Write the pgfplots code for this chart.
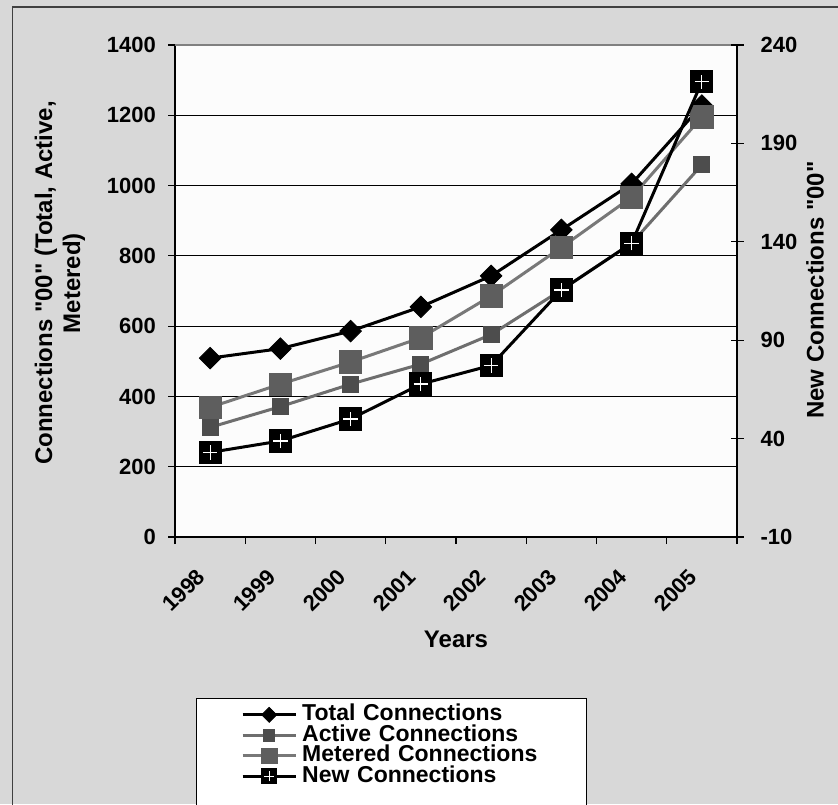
\documentclass[border=0pt]{standalone}
\usepackage{fontspec}
\setmainfont{Liberation Sans}[Ligatures=TeXOff]
\usepackage{pgfplots}
\pgfplotsset{compat=1.18}

\definecolor{bggray}{HTML}{D8D8D8}
\definecolor{plotbg}{HTML}{FCFCFC}
\definecolor{activeline}{HTML}{6E6E6E}
\definecolor{activemark}{HTML}{4D4D4D}
\definecolor{meterline}{HTML}{787878}
\definecolor{metermark}{HTML}{5E5E5E}
\definecolor{framegray}{HTML}{404040}

\newcommand\TickFont{\bfseries\fontsize{11}{13}\selectfont}

% black square with a light cross, as the New Connections marker
\pgfdeclareplotmark{sqplus}{%
  \pgfpathrectangle{\pgfqpoint{-\pgfplotmarksize}{-\pgfplotmarksize}}%
    {\pgfqpoint{2\pgfplotmarksize}{2\pgfplotmarksize}}%
  \pgfusepathqfill
  \pgfsetstrokecolor{white}%
  \pgfsetlinewidth{0.6pt}%
  \pgfpathmoveto{\pgfqpoint{-0.62\pgfplotmarksize}{0pt}}%
  \pgfpathlineto{\pgfqpoint{0.62\pgfplotmarksize}{0pt}}%
  \pgfpathmoveto{\pgfqpoint{0pt}{-0.62\pgfplotmarksize}}%
  \pgfpathlineto{\pgfqpoint{0pt}{0.62\pgfplotmarksize}}%
  \pgfusepathqstroke
}

\pgfplotsset{
  totalstyle/.style={black, line width=1.5pt, mark=square*,
    mark size=3.8pt, mark options={rotate=45, fill=black, draw=black, line width=0.4pt}},
  activestyle/.style={activeline, line width=1.5pt, mark=square*,
    mark size=4pt, mark options={fill=activemark, draw=activemark, line width=0.4pt}},
  meterstyle/.style={meterline, line width=1.5pt, mark=square*,
    mark size=5.6pt, mark options={fill=metermark, draw=metermark, line width=0.4pt}},
  newstyle/.style={black, line width=1.5pt, mark=sqplus,
    mark size=5.8pt, mark options={fill=black, draw=black}},
  common/.style={
    scale only axis, width=281pt, height=246pt,
    at={(87.5pt,133.5pt)}, anchor=south west,
    xmin=0.5, xmax=8.5,
    axis line style={-, black, line width=0.6pt},
    label style={font=\bfseries\fontsize{12}{14}\selectfont},
    tick style={black, line width=0.6pt},
  },
}

\begin{document}
\begin{tikzpicture}
\path[use as bounding box] (0,0) rectangle (419pt,402pt);
\clip (0,0) rectangle (419pt,402pt);
\fill[bggray] (0,0) rectangle (419pt,402pt);
\draw[framegray, line width=0.8pt] (6.25pt,-5pt) -- (6.25pt,398.5pt) -- (425pt,398.5pt);

\begin{axis}[
  common,
  axis background/.style={fill=plotbg},
  axis x line*=bottom, axis y line*=left,
  ymin=0, ymax=1400, ytick={0,200,400,600,800,1000,1200,1400},
  yticklabels={0,200,400,600,800,1000,1200,1400},
  ymajorgrids, grid style={black, line width=0.5pt},
  ytick align=outside, xtick align=outside, major tick length=3.5pt,
  xtick={0.5,1.5,...,8.5}, x tick label as interval,
  xticklabels={1998,1999,2000,2001,2002,2003,2004,2005},
  xticklabel style={font=\TickFont, yshift=-12pt, xshift=-2pt, rotate=45, anchor=east},
  yticklabel style={font=\TickFont, xshift=-2.5pt},
  xlabel={Years},
  xlabel style={at={(axis description cs:0.5,-0.209)}, anchor=center},
  ylabel={Connections "00" (Total, Active,\\Metered)},
  ylabel style={align=center, at={(axis description cs:-0.2046,0.516)}, anchor=center},
]
\draw[gray, line width=0.6pt] (rel axis cs:0,1) -- (rel axis cs:1,1);
\addplot[totalstyle] coordinates {
  (1,509) (2,536) (3,586) (4,655) (5,743) (6,874) (7,1005) (8,1228)};
\addplot[activestyle] coordinates {
  (1,312) (2,371) (3,435) (4,492) (5,576) (6,703) (7,836) (8,1059)};
\addplot[meterstyle] coordinates {
  (1,369) (2,435) (3,498) (4,567) (5,686) (6,824) (7,967) (8,1195)};
\end{axis}

\begin{axis}[
  common,
  axis x line=none, axis y line*=right,
  ymin=-10, ymax=240, ytick={-10,40,90,140,190,240},
  yticklabels={-10,40,90,140,190,240},
  ytick align=center, major tick length=6.5pt,
  yticklabel style={font=\TickFont, xshift=5pt},
  ylabel={New Connections "00"},
  ylabel style={at={(axis description cs:1.139,0.502)}, anchor=center},
  legend cell align=left,
  legend image code/.code={
    \draw[mark repeat=2, mark phase=2, /tikz/every mark/.append style={scale=0.7}]
      plot coordinates {(0pt,0pt) (13.25pt,0pt) (26.5pt,0pt)};},
  legend style={
    at={(axis description cs:0.0374,-0.327)}, anchor=north west,
    draw=black, fill=white, line width=0.7pt,
    inner xsep=22.25pt, inner ysep=3pt,
    font=\bfseries\fontsize{11.5}{12}\selectfont,
    nodes={inner sep=0pt, text height=8pt, text depth=2.25pt, text width=120pt, align=left},
    column sep=2.5pt, row sep=0pt,
  },
]
\addlegendimage{totalstyle}
\addlegendentry{Total Connections}
\addlegendimage{activestyle}
\addlegendentry{Active Connections}
\addlegendimage{meterstyle}
\addlegendentry{Metered Connections}
\addplot[newstyle] coordinates {
  (1,33) (2,38.8) (3,50) (4,67.7) (5,77.2) (6,115.5) (7,139.3) (8,221.3)};
\addlegendentry{New Connections}
\addlegendimage{empty legend}
\addlegendentry{}
\end{axis}
\end{tikzpicture}
\end{document}
